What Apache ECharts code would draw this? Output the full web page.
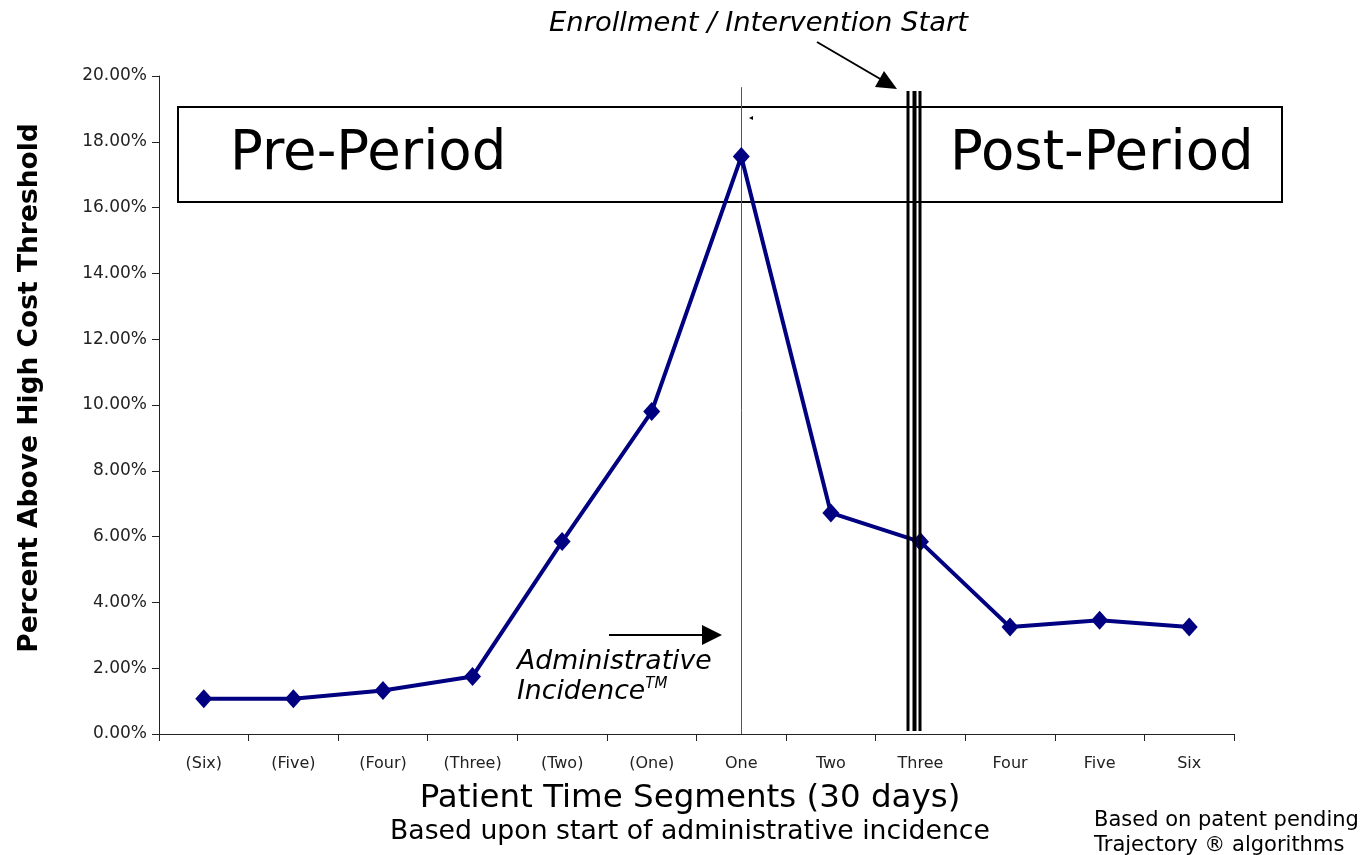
<!DOCTYPE html>
<html>
<head>
<meta charset="utf-8">
<title>Patient Time Segments</title>
<script src="https://cdn.jsdelivr.net/npm/echarts@6/dist/echarts.min.js"></script>
<style>
  html, body { margin: 0; padding: 0; background: #fff; }
  #chart { width: 1365px; height: 855px; }
</style>
</head>
<body>
<div id="chart"></div>
<script>
const categories = ['(Six)', '(Five)', '(Four)', '(Three)', '(Two)', '(One)', 'One', 'Two', 'Three', 'Four', 'Five', 'Six'];
const percentAbove = [1.07, 1.07, 1.32, 1.75, 5.85, 9.8, 17.55, 6.72, 5.84, 3.25, 3.46, 3.25];
const yMin = 0;
const yMax = 20;
const yStep = 2;

const incidenceCategory = 'One';
const incidenceLineTop = 19.66;

const font = 'DejaVu Sans, Verdana, sans-serif';

const chart = echarts.init(document.getElementById('chart'));

const option = {
  backgroundColor: '#fff',
  animation: false,
  grid: {
    left: 159,
    right: 131,
    top: 76,
    bottom: 121
  },
  xAxis: {
    type: 'category',
    data: categories,
    boundaryGap: true,
    axisLine: { lineStyle: { color: '#222', width: 1 } },
    axisTick: { show: true, length: 7, lineStyle: { color: '#222' } },
    axisLabel: { fontFamily: font, fontSize: 16, color: '#222', margin: 22 },
    splitLine: { show: false }
  },
  yAxis: {
    type: 'value',
    min: yMin,
    max: yMax,
    interval: yStep,
    axisLine: { show: true, lineStyle: { color: '#222', width: 1 } },
    axisTick: { show: true, length: 7, lineStyle: { color: '#222' } },
    axisLabel: {
      fontFamily: font,
      fontSize: 17,
      color: '#222',
      margin: 12,
      formatter: v => v.toFixed(2) + '%'
    },
    splitLine: { show: false }
  },
  series: [
    {
      type: 'line',
      data: percentAbove,
      symbol: 'diamond',
      symbolSize: [17, 19],
      lineStyle: { color: '#000080', width: 4 },
      itemStyle: { color: '#000080' },
      z: 5,
      markLine: {
        silent: true,
        symbol: 'none',
        label: { show: false },
        lineStyle: { color: '#555', width: 1, type: 'solid' },
        data: [[{ coord: [incidenceCategory, incidenceLineTop] }, { coord: [incidenceCategory, 0] }]]
      }
    }
  ],
  graphic: [
    // axis titles
    {
      type: 'text',
      x: 30, y: 388,
      rotation: Math.PI / 2,
      style: {
        text: 'Percent Above High Cost Threshold',
        font: 'bold 26.5px ' + font,
        fill: '#000',
        align: 'center',
        verticalAlign: 'middle'
      }
    },
    {
      type: 'text',
      x: 690, y: 799,
      style: {
        text: 'Patient Time Segments (30 days)',
        font: '32.5px ' + font,
        fill: '#000',
        align: 'center',
        verticalAlign: 'middle'
      }
    },
    {
      type: 'text',
      x: 690, y: 832,
      style: {
        text: 'Based upon start of administrative incidence',
        font: '26.7px ' + font,
        fill: '#000',
        align: 'center',
        verticalAlign: 'middle'
      }
    },
    // Pre / Post period box
    {
      type: 'rect',
      shape: { x: 178, y: 107, width: 1104, height: 95 },
      style: { fill: 'none', stroke: '#000', lineWidth: 2 },
      z: 1
    },
    {
      type: 'text',
      x: 230, y: 155,
      style: { text: 'Pre-Period', font: '54.5px ' + font, fill: '#000', verticalAlign: 'middle' }
    },
    {
      type: 'text',
      x: 950, y: 155,
      style: { text: 'Post-Period', font: '54.5px ' + font, fill: '#000', verticalAlign: 'middle' }
    },
    // intervention start triple line
    {
      type: 'line',
      shape: { x1: 908, y1: 91, x2: 908, y2: 731 },
      style: { stroke: '#000', lineWidth: 3 }, z: 10
    },
    {
      type: 'line',
      shape: { x1: 914.5, y1: 91, x2: 914.5, y2: 731 },
      style: { stroke: '#000', lineWidth: 4 }, z: 10
    },
    {
      type: 'line',
      shape: { x1: 920, y1: 91, x2: 920, y2: 731 },
      style: { stroke: '#000', lineWidth: 3 }, z: 10
    },
    // enrollment annotation
    {
      type: 'text',
      x: 549, y: 24,
      style: {
        text: 'Enrollment / Intervention Start',
        font: 'italic 27.4px ' + font,
        fill: '#000',
        verticalAlign: 'middle'
      }
    },
    {
      type: 'line',
      shape: { x1: 817, y1: 42, x2: 882, y2: 80 },
      style: { stroke: '#000', lineWidth: 2 }
    },
    {
      type: 'polygon',
      shape: { points: [[897, 89], [875, 87], [884, 71]] },
      style: { fill: '#000' }
    },
    // small marker near the peak
    {
      type: 'polygon',
      shape: { points: [[749, 118], [753, 116], [753, 120]] },
      style: { fill: '#000' }
    },
    // administrative incidence annotation
    {
      type: 'line',
      shape: { x1: 609, y1: 635, x2: 704, y2: 635 },
      style: { stroke: '#000', lineWidth: 2 }
    },
    {
      type: 'polygon',
      shape: { points: [[722, 635], [702, 625], [702, 645]] },
      style: { fill: '#000' }
    },
    {
      type: 'text',
      left: 517, top: 647,
      style: {
        text: 'Administrative\nIncidence{sup|TM}',
        font: 'italic 26.7px ' + font,
        lineHeight: 30,
        fill: '#000',
        rich: {
          sup: { font: 'italic 15px ' + font, verticalAlign: 'top', padding: [0, 0, 12, 0], fill: '#000' }
        }
      }
    },
    // footnote
    {
      type: 'text',
      left: 1094, top: 808,
      style: {
        text: 'Based on patent pending\nTrajectory \u00ae algorithms',
        font: '21px ' + font,
        lineHeight: 25,
        fill: '#000'
      }
    }
  ]
};

chart.setOption(option);
window.addEventListener('resize', () => chart.resize());
</script>
</body>
</html>
